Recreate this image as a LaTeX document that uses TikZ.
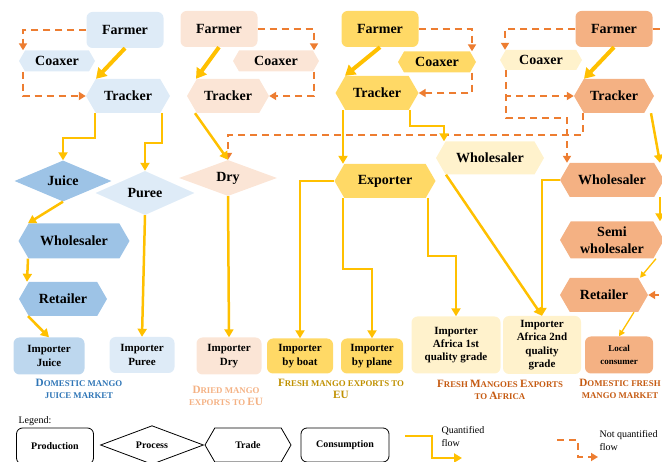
\documentclass[tikz,border=0pt]{standalone}
\usepackage{fontspec}
\setmainfont{Liberation Serif}
\usepackage{xcolor}
\usetikzlibrary{arrows.meta,shapes.geometric,shapes.symbols}

\definecolor{bluelight}{HTML}{DEEBF7}
\definecolor{bluemid}{HTML}{9DC3E6}
\definecolor{blueimp}{HTML}{BDD7EE}
\definecolor{peach}{HTML}{FBE5D6}
\definecolor{gold}{HTML}{FFD966}
\definecolor{cream}{HTML}{FFF2CC}
\definecolor{salmon}{HTML}{F4B183}
\definecolor{flowyellow}{HTML}{FFC000}
\definecolor{floworange}{HTML}{ED7D31}
\definecolor{txtblue}{HTML}{2E75B6}
\definecolor{txtgold}{HTML}{BF9000}
\definecolor{txtbrown}{HTML}{C55A11}

\newcommand{\capA}[1]{{\fontsize{11.2}{13}\selectfont #1}}
\newcommand{\capB}[1]{{\fontsize{8.8}{13}\selectfont #1}}

\begin{document}
\begin{tikzpicture}[x=1pt, y=-1pt, font=\bfseries, align=center, >={Triangle[width=9pt,length=8pt]}]

    \tikzstyle{farm}=[rectangle, rounded corners=6pt, minimum width=77pt, minimum height=36pt, font=\fontsize{14}{16}\selectfont\bfseries]
    \tikzstyle{trade}=[signal, signal to=west and east, signal pointer angle=120, inner sep=1pt, font=\fontsize{14}{16}\selectfont\bfseries]
    \tikzstyle{proc}=[diamond, inner sep=0pt, font=\fontsize{14}{16}\selectfont\bfseries]
    \tikzstyle{cons}=[rectangle, rounded corners=6pt, inner sep=1pt, font=\fontsize{11}{13.3}\selectfont\bfseries]
    \tikzstyle{mkt}=[align=center, font=\bfseries]
    \tikzstyle{legend}=[draw=black, fill=white, line width=0.8pt, font=\fontsize{10}{12}\selectfont\bfseries]
    \tikzstyle{qf}=[->, draw=flowyellow, line width=2.5pt]
    \tikzstyle{qfbig}=[qf, line width=4pt, >={Triangle[width=12pt,length=10pt]}]
    \tikzstyle{qfthin}=[qf, line width=1.3pt, >={Triangle[width=6pt,length=6pt]}]
    \tikzstyle{nq}=[->, draw=floworange, line width=2pt, dash pattern=on 7pt off 5pt, >={Triangle[width=8pt,length=7pt]}]

    \useasboundingbox (0,0) rectangle (662,462);

    % juice market
    \node[farm, fill=bluelight] (farmerA) at (125,30) {Farmer};
    \node[trade, fill=bluelight, minimum width=76pt, minimum height=21pt] (coaxA) at (57,61) {Coaxer};
    \node[trade, fill=bluelight, minimum width=84pt, minimum height=34pt] (trackA) at (128,96) {Tracker};
    \node[proc, fill=bluemid, minimum width=97pt, minimum height=39pt] (juice) at (63,181) {Juice};
    \node[proc, fill=bluelight, minimum width=99pt, minimum height=39pt] (puree) at (145,193) {Puree};
    \node[trade, fill=bluemid, minimum width=111pt, minimum height=35pt] (wholeA) at (74,241) {Wholesaler};
    \node[trade, fill=bluemid, minimum width=88pt, minimum height=34pt] (retA) at (63,299) {Retailer};
    \node[cons, fill=blueimp, minimum width=71pt, minimum height=37pt] (impjuice) at (49,356) {Importer\\Juice};
    \node[cons, fill=bluelight, minimum width=65pt, minimum height=36pt] (imppuree) at (142,355) {Importer\\Puree};
    \node[mkt, text=txtblue] (mktA) at (79,389) {\capA{D}\capB{OMESTIC MANGO}\\\capB{JUICE MARKET}};

    % dried mango
    \node[farm, fill=peach] (farmerB) at (219,29) {Farmer};
    \node[trade, fill=peach, minimum width=86pt, minimum height=21pt] (coaxB) at (276,61) {Coaxer};
    \node[trade, fill=peach, minimum width=82pt, minimum height=34pt] (trackB) at (228,96) {Tracker};
    \node[proc, fill=peach, minimum width=98pt, minimum height=36pt] (dry) at (228,178) {Dry};
    \node[cons, fill=peach, minimum width=65pt, minimum height=37pt] (impdry) at (229,356) {Importer\\Dry};
    \node[mkt, text=salmon] (mktB) at (226,396) {\capA{D}\capB{RIED MANGO}\\\capB{EXPORTS TO }\capA{EU}};

    % fresh mango exports
    \node[farm, fill=gold] (farmerC) at (380,29) {Farmer};
    \node[trade, fill=gold, minimum width=78pt, minimum height=21pt] (coaxC) at (437,62) {Coaxer};
    \node[trade, fill=gold, minimum width=83pt, minimum height=34pt] (trackC) at (377,93) {Tracker};
    \node[trade, fill=gold, minimum width=101pt, minimum height=34pt] (exporter) at (385,181) {Exporter};
    \node[trade, fill=cream, minimum width=108pt, minimum height=33pt] (wholeC) at (490,158) {Wholesaler};
    \node[cons, fill=gold, minimum width=66pt, minimum height=35pt] (impboat) at (300,356) {Importer\\by boat};
    \node[cons, fill=gold, minimum width=62pt, minimum height=35pt] (impplane) at (372,356) {Importer\\by plane};
    \node[cons, fill=cream, minimum width=89pt, minimum height=57pt] (impafA) at (456,345) {Importer\\Africa 1st\\quality grade};
    \node[cons, fill=cream, minimum width=78pt, minimum height=58pt] (impafB) at (542,345) {Importer\\Africa 2nd\\quality\\grade};
    \node[mkt, text=txtgold] (mktC) at (341,389) {\capA{F}\capB{RESH MANGO EXPORTS TO}\\\capA{EU}};
    \node[mkt, text=txtbrown] (mktD) at (500,390) {\capA{F}\capB{RESH }\capA{M}\capB{ANGOES }\capA{E}\capB{XPORTS}\\\capB{TO }\capA{A}\capB{FRICA}};

    % domestic fresh
    \node[farm, fill=salmon] (farmerD) at (614,29) {Farmer};
    \node[trade, fill=cream, minimum width=82pt, minimum height=20pt] (coaxD) at (541,60) {Coaxer};
    \node[trade, fill=salmon, minimum width=80pt, minimum height=34pt] (trackD) at (614,96) {Tracker};
    \node[trade, fill=salmon, minimum width=104pt, minimum height=34pt] (wholeD) at (612,180) {Wholesaler};
    \node[trade, fill=salmon, minimum width=104pt, minimum height=37pt, font=\fontsize{14}{17}\selectfont\bfseries] (semi) at (612,240) {Semi\\wholesaler};
    \node[trade, fill=salmon, minimum width=88pt, minimum height=34pt] (retD) at (604,295) {Retailer};
    \node[cons, fill=salmon, minimum width=68pt, minimum height=37pt, font=\fontsize{9}{13}\selectfont\bfseries] (local) at (619,355) {Local\\consumer};
    \node[mkt, text=txtbrown] (mktE) at (620,389) {\capA{D}\capB{OMESTIC FRESH}\\\capB{MANGO MARKET}};

    % not quantified flows
    \draw[nq] (farmerA.west) -| ([xshift=-34pt]coaxA.north);
    \draw[nq] ([xshift=-34pt]coaxA.south) |- (trackA.west);
    \draw[nq] (farmerB.east) -| ([xshift=38pt]coaxB.north);
    \draw[nq] ([xshift=38pt]coaxB.south) |- (trackB.east);
    \draw[nq] (farmerC.east) -| ([xshift=35pt]coaxC.north);
    \draw[nq] ([xshift=35pt]coaxC.south) |- (trackC.east);
    \draw[nq] (farmerD.west) -| ([xshift=-36pt]coaxD.north);
    \draw[nq] ([xshift=-35pt]coaxD.south) |- (trackD.west);
    \draw[nq] ([xshift=-35pt]coaxD.south) -- ++(0,48) -| ([xshift=-45pt]wholeD.north);
    \draw[nq] ([xshift=-31pt]trackD.south) -- ++(0,22) -| (dry.north);
    \draw[nq] (farmerD.east) -- ++(20,0) |- (retD.east);

    % quantified flows
    \draw[qfbig] (farmerA.south) -- ([xshift=-32pt]trackA.north);
    \draw[qfbig] (farmerB.south) -- ([xshift=-32pt]trackB.north);
    \draw[qfbig] (farmerC.south) -- ([xshift=-32pt]trackC.north);
    \draw[qfbig] (farmerD.south) -- ([xshift=-30pt]trackD.north);

    \draw[qf] ([xshift=-33pt]trackA.south) -- ++(0,25) -| (juice.north);
    \draw[qf] ([xshift=34pt]trackA.south) -- ++(0,30) -| (puree.north);
    \draw[qf] (juice.south) -- ([xshift=-46pt]wholeA.north);
    \draw[qf] ([xshift=-46pt]wholeA.south) -- ([xshift=-36pt]retA.north);
    \draw[qf] ([xshift=-35pt]retA.south) -- (impjuice.north);
    \draw[qf] (puree.south) -- (imppuree.north);

    \draw[qf] ([xshift=-33pt]trackB.south) -- (dry.north);
    \draw[qf] (dry.south) -- (impdry.north);

    \draw[qf] ([xshift=-34pt]trackC.south) -- ([xshift=-42pt]exporter.north);
    \draw[qf] ([xshift=33pt]trackC.south) -- ++(0,16) -| ([xshift=-46pt]wholeC.north);
    \draw[qf] (exporter.west) -| (impboat.north);
    \draw[qf] ([xshift=-42pt]exporter.south) -- ++(0,71) -| (impplane.north);
    \draw[qf] ([xshift=43pt]exporter.south) -- ++(0,58) -| (impafA.north);
    \draw[qf] ([xshift=-44pt]wholeC.south) -- (impafB.north);

    \draw[qf] ([xshift=37pt]trackD.south) -- ([xshift=48pt]wholeD.north);
    \draw[qf] (wholeD.west) -| (impafB.north);
    \draw[qf] ([xshift=48pt]wholeD.south) -- ([xshift=48pt]semi.north);
    \draw[qfthin] ([xshift=44pt]semi.south) -- ([xshift=36pt]retD.north);
    \draw[qfthin] ([xshift=30pt]retD.south) -- (local.north);

    % legend
    \node[font=\fontsize{10}{12}\selectfont\mdseries] (legtitle) at (35,421) {Legend:};
    \node[legend, rectangle, rounded corners=6pt, minimum width=77pt, minimum height=36pt] (legprod) at (55,446) {Production};
    \node[legend, diamond, inner sep=0pt, minimum width=103pt, minimum height=38pt] (legproc) at (152,445) {Process};
    \node[legend, signal, signal to=west and east, signal pointer angle=120, minimum width=86pt, minimum height=34pt] (legtrade) at (248,445) {Trade};
    \node[legend, rectangle, rounded corners=6pt, minimum width=88pt, minimum height=34pt] (legcons) at (345,445) {Consumption};

    \coordinate (qa) at (405,436);
    \coordinate (qb) at (462,458);
    \draw[qf] (qa) -- (432,436) |- (qb);
    \node[anchor=north west, align=left, font=\fontsize{10}{13}\selectfont\mdseries] (legqf) at (438,423) {Quantified\\flow};

    \coordinate (na) at (557,440);
    \coordinate (nb) at (598,457);
    \draw[nq] (na) -- (578,440) |- (nb);
    \node[anchor=north west, align=left, font=\fontsize{10}{13}\selectfont\mdseries] (legnq) at (596,427) {Not quantified\\flow};
\end{tikzpicture}
\end{document}
